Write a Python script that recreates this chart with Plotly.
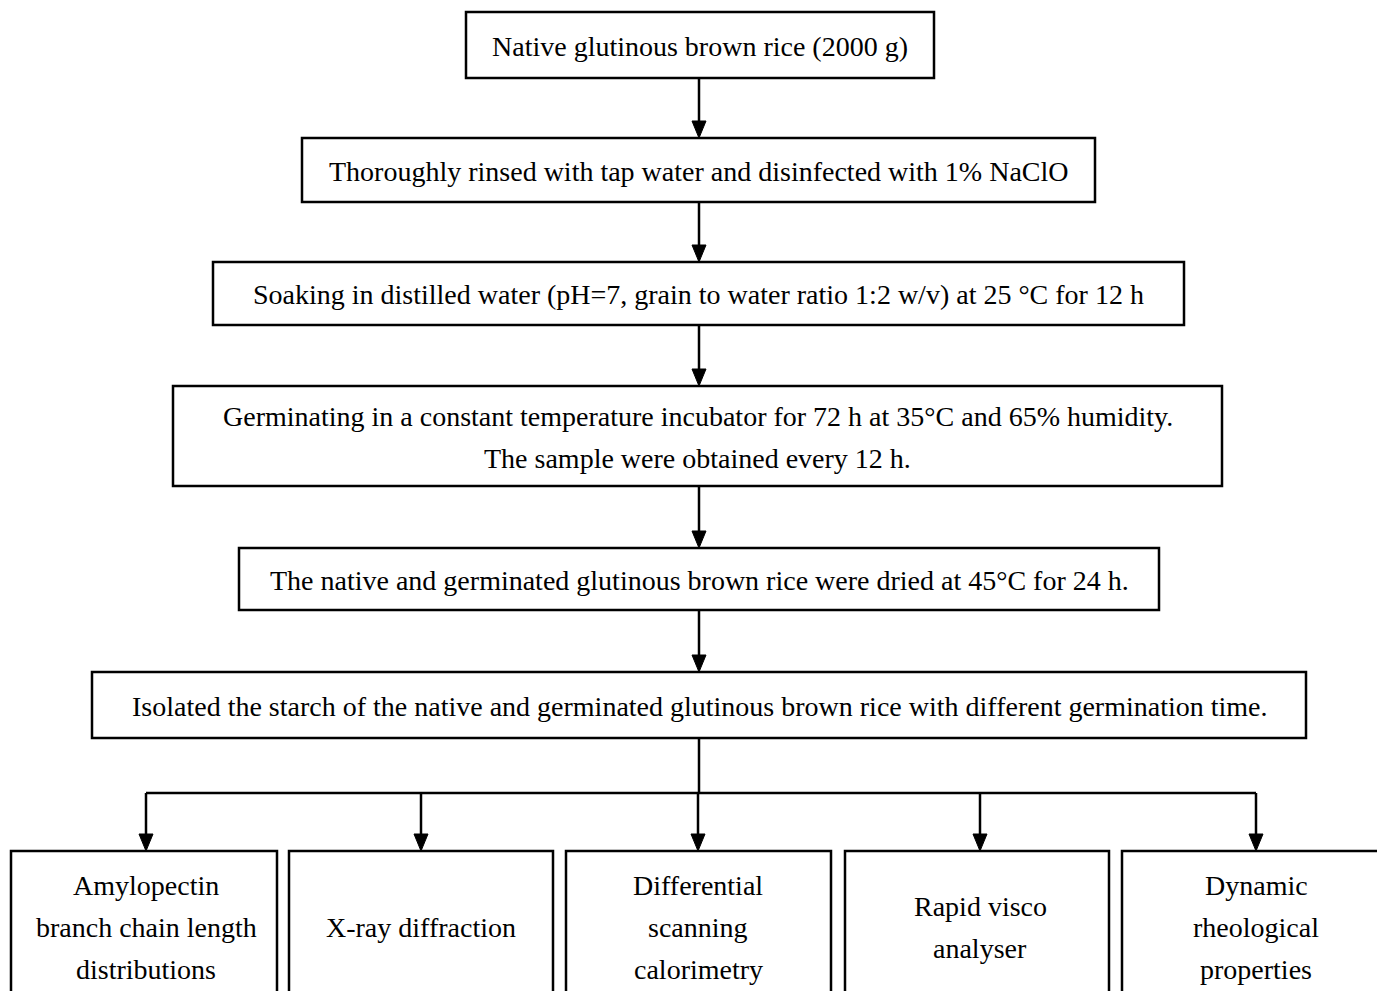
import plotly.graph_objects as go

# ---- content ----
steps = [
    ["Native glutinous brown rice (2000 g)"],
    ["Thoroughly rinsed with tap water and disinfected with 1% NaClO"],
    ["Soaking in distilled water (pH=7, grain to water ratio 1:2 w/v) at 25 \u00b0C for 12 h"],
    ["Germinating in a constant temperature incubator for 72 h at 35\u00b0C and 65% humidity.",
     "The sample were obtained every 12 h."],
    ["The native and germinated glutinous brown rice were dried at 45\u00b0C for 24 h."],
    ["Isolated the starch of the native and germinated glutinous brown rice with different germination time."],
]
analyses = [
    ["Amylopectin", "branch chain length", "distributions"],
    ["X-ray diffraction"],
    ["Differential", "scanning", "calorimetry"],
    ["Rapid visco", "analyser"],
    ["Dynamic", "rheological", "properties"],
]

# ---- layout (pixel geometry) ----
W, H = 1377, 991
step_boxes = [  # x0, x1, y0, y1
    (466, 934, 12, 78),
    (302, 1095, 138, 202),
    (213, 1184, 262, 325),
    (173, 1222, 386, 486),
    (239, 1159, 548, 610),
    (92, 1306, 672, 738),
]
chain_x = 699
bar_y = 793
bottom_top = 851
bottom_boxes = [(11, 277), (289, 553), (566, 831), (845, 1109), (1122, 1395)]
branch_x = [146, 421, 698, 980, 1256]
bottom_text_cy = 927
line_gap = 42
FONT = dict(family="Liberation Serif", size=28, color="black")
LW = 2.5
AH_W, AH_H = 7, 17  # arrowhead half-width, length

shapes = []
annotations = []


def rect(x0, x1, y0, y1):
    shapes.append(dict(type="rect", xref="x", yref="y", x0=x0, x1=x1, y0=y0, y1=y1,
                       line=dict(color="black", width=LW), fillcolor="rgba(0,0,0,0)"))


def line(x0, y0, x1, y1):
    shapes.append(dict(type="line", xref="x", yref="y", x0=x0, y0=y0, x1=x1, y1=y1,
                       line=dict(color="black", width=LW)))


def arrow_down(x, y_start, y_tip):
    line(x, y_start, x, y_tip - AH_H + 2)
    path = f"M {x - AH_W},{y_tip - AH_H} L {x + AH_W},{y_tip - AH_H} L {x},{y_tip} Z"
    shapes.append(dict(type="path", xref="x", yref="y", path=path,
                       fillcolor="black", line=dict(color="black", width=1)))


def text_lines(lines, cx, cy):
    n = len(lines)
    for i, t in enumerate(lines):
        y = cy + (i - (n - 1) / 2) * line_gap
        annotations.append(dict(x=cx, y=y, xref="x", yref="y", text=t, showarrow=False,
                                font=FONT, xanchor="center", yanchor="middle"))


for (x0, x1, y0, y1), lines in zip(step_boxes, steps):
    rect(x0, x1, y0, y1)
    text_lines(lines, (x0 + x1) / 2, (y0 + y1) / 2 + 1)

for i in range(len(step_boxes) - 1):
    arrow_down(chain_x, step_boxes[i][3], step_boxes[i + 1][2])

# branch
line(chain_x, step_boxes[-1][3], chain_x, bar_y)
line(branch_x[0], bar_y, branch_x[-1], bar_y)
for bx in branch_x:
    arrow_down(bx, bar_y, bottom_top)

for (x0, x1), lines, bx in zip(bottom_boxes, analyses, branch_x):
    rect(x0, x1, bottom_top, H + 20)
    text_lines(lines, bx, bottom_text_cy)

fig = go.Figure()
fig.update_layout(
    width=W, height=H,
    margin=dict(l=0, r=0, t=0, b=0),
    paper_bgcolor="white", plot_bgcolor="white",
    xaxis=dict(range=[0, W], visible=False, fixedrange=True),
    yaxis=dict(range=[H, 0], visible=False, fixedrange=True),
    shapes=shapes, annotations=annotations, showlegend=False,
)
fig.write_html("out.html", config={"displayModeBar": False},
               post_script="document.body.style.margin='0';document.body.style.overflow='hidden';")
